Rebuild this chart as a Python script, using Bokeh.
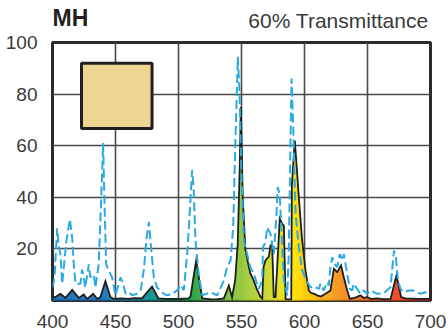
import numpy as np
from bokeh.plotting import figure
from bokeh.layouts import column
from bokeh.models import Range1d, FixedTicker, ColumnDataSource
from bokeh.core.properties import value
from bokeh.embed import file_html
from bokeh.resources import INLINE

# Relative spectral power of the metal-halide lamp (black outline, filled)
spd_nm = [400, 402, 406.3, 410.3, 415.6, 420.9, 424.8, 427.5, 432.3, 435.5, 438, 442, 446, 448.7,
          455, 460, 465, 471, 479, 484, 490, 500, 508, 509.5, 514, 518.8, 525, 530, 536, 540, 542.5,
          545, 547, 548.5, 549.5, 551, 553, 555, 557, 559.5, 562, 565, 566.5, 567.5, 569, 571.7, 573,
          574.3, 575.6, 577, 580.4, 582.3, 583.6, 585, 589.5, 590, 592.3, 595.5, 598, 600.8, 603.4,
          605, 608.7, 610, 613, 616.7, 620.6, 623.3, 626, 629, 631.2, 633.9, 636, 640, 644.4, 647,
          649.7, 653, 657.7, 662, 668.3, 673, 676.7, 680, 690, 700]
spd_val = [1.0, 1.3, 2.6, 1.0, 4.1, 1.0, 2.3, 0.6, 2.6, 0.6, 1.3, 7.5, 1.3, 0.6,
           0.8, 0.6, 0.9, 0.8, 5.4, 0.8, 0.6, 0.6, 0.8, 1.5, 15.5, 0.8, 0.5, 0.4, 0.8, 5.8, 1.2,
           8, 22, 50, 75, 40, 20, 15, 10.5, 8, 4.6, 1.5, 0.8, 13, 15.5, 17, 21.3,
           22, 1.3, 1.3, 31.7, 29.7, 29, 0.5, 0.3, 45, 62, 40, 24, 11.6, 3.9,
           3, 2.4, 2, 1.5, 2.6, 3.9, 12.3, 11, 13.6, 9, 3.9, 0.7, 1, 2, 1,
           1.3, 0.6, 0.8, 0.5, 0.6, 9.7, 1.3, 0.8, 0.6, 0.6]

# Spectrum seen through the 60% transmittance filter (dashed)
trans_nm = [400, 401.6, 403.7, 405, 406.3, 407.7, 411, 413.8, 415.6, 417, 418.3, 422.2, 423.5, 424.8,
            426, 428.8, 430, 432.8, 434, 436.7, 438.6, 440.2, 441.3, 442.6, 444.7, 447.3, 450, 454,
            456, 458, 460.6, 463.2, 467, 470, 472.5, 474.6, 476.5, 477.8, 480.4, 483, 485.7, 488.3,
            491, 495, 499, 501.6, 504.2, 506.9, 508.2, 510.8, 512, 513.5, 516, 518.8, 525.4, 530.7,
            536, 538.6, 541.3, 543.4, 545.2, 547.1, 548.4, 549.8, 551.9, 554.5, 557, 559.8, 563.7,
            566.4, 567.1, 569, 570.4, 573, 575.6, 577.8, 578.8, 580.4, 582.3, 583.6, 586.3, 587.5,
            588.9, 589.7, 591, 592.9, 595.5, 598.2, 600.8, 604.8, 607.4, 611.4, 612.7, 615.3, 618,
            619.3, 620.6, 622, 623.8, 626, 628, 630, 631.2, 633.9, 636, 637.8, 639, 641.8, 644.4,
            647, 649.7, 652.4, 657.7, 663, 668.3, 671, 672.5, 674.2, 676.2, 678.8, 682.8, 686.7,
            692, 696, 700]
trans_val = [5, 9, 28, 21, 18, 6.5, 23, 31.5, 24.5, 13, 6.5, 6.5, 12, 9,
             5, 14, 9, 10, 5, 14, 39, 61, 37, 14, 11.5, 9, 2, 9,
             6.5, 2.6, 3.2, 2, 2.6, 4, 12, 24, 30.5, 23, 9, 5, 3.9, 2.6,
             2, 2.5, 4, 6, 4, 18, 28, 50.5, 44, 23, 10.3, 2, 3.2, 2,
             7.8, 13, 15.5, 28.4, 62, 94.5, 81, 51.7, 23, 18, 13, 10.3, 4.5,
             7.8, 20.7, 22.6, 28.4, 25.8, 18, 33.6, 44, 40.7, 20.7, 7.8, 2, 18,
             62, 86, 68.5, 33.6, 20.7, 11.6, 8.4, 5, 5.5, 4.5, 6.5, 3.9, 7.1,
             5.8, 12.9, 16.8, 14.2, 13, 18, 15.5, 18, 10.3, 4.5, 3.9, 6.5, 4.5, 2.6,
             3.9, 2.6, 3.9, 2.6, 2.8, 5.2, 19.4, 16.8, 7.8, 4.5, 3.2, 3.9, 3.9,
             2.6, 3.2, 3.2]

x_ticks = [400, 450, 500, 550, 600, 650, 700]
y_ticks = [20, 40, 60, 80, 100]

lamp_name = "MH"
filter_name = "60% Transmittance"

# Colour swatch of the lamp light
swatch_left, swatch_right, swatch_bottom, swatch_top = 423, 479, 66.7, 92
swatch_color = "#EDD592"

# Spectral colour ramp used to shade the area under the curve
ramp_nm = [400, 440, 460, 480, 495, 510, 525, 540, 555, 570, 582, 590, 600, 612, 628, 645, 665, 685, 700]
ramp_hex = ["#1f6cb4", "#1c75bc", "#1a84ac", "#12918f", "#0d7d4f", "#25a244", "#4fb146", "#7fc241",
            "#a2cc3a", "#c8d92c", "#e8e31a", "#fee800", "#ffd100", "#fbb318", "#f7941d", "#f37021",
            "#f05223", "#e93e25", "#d9261c"]
ramp_rgb = np.array([[int(h[i:i + 2], 16) for i in (1, 3, 5)] for h in ramp_hex], dtype=float)


def spectral(nm):
    r, g, b = (np.interp(nm, ramp_nm, ramp_rgb[:, k]) for k in range(3))
    return "#%02x%02x%02x" % (int(round(r)), int(round(g)), int(round(b)))


# Thin colour slices under each segment of the curve, for a smooth spectral gradient
xs, ys, cs = [], [], []
for i in range(len(spd_nm) - 1):
    x0, x1 = spd_nm[i], spd_nm[i + 1]
    y0, y1 = spd_val[i], spd_val[i + 1]
    n = max(1, int(np.ceil((x1 - x0) / 0.5)))
    edges = np.linspace(x0, x1, n + 1)
    hts = y0 + (y1 - y0) * (edges - x0) / (x1 - x0)
    for j in range(n):
        xs.append([edges[j], edges[j], edges[j + 1], edges[j + 1]])
        ys.append([0, hts[j], hts[j + 1], 0])
        cs.append(spectral((edges[j] + edges[j + 1]) / 2))

# Header strip carrying the lamp name and the filter name; its frame lines up with the
# chart frame below, so the x range is expressed in page pixels (52..430)
head = figure(width=448, height=31, output_backend="svg", toolbar_location=None,
              x_range=Range1d(52, 430), y_range=Range1d(0, 31),
              min_border=0, min_border_left=0, min_border_right=0, min_border_top=0, min_border_bottom=0)
head.axis.visible = False
head.grid.visible = False
head.outline_line_color = None
head.background_fill_color = "white"
head.border_fill_color = "white"
head.text(x=[52], y=[13.5], text=[lamp_name], text_font=value("Liberation Sans"),
          text_font_style="bold", text_font_size="23px", text_color="#231f20",
          text_baseline="middle", text_align="left")
head.text(x=[428], y=[11.5], text=[filter_name], text_font=value("Liberation Sans"),
          text_font_size="21px", text_color="#3a3a3a", text_baseline="middle", text_align="right")

p = figure(width=448, height=304, output_backend="svg", toolbar_location=None,
           x_range=Range1d(400, 700), y_range=Range1d(0, 100),
           min_border_left=52, min_border_right=18, min_border_top=11, min_border_bottom=35)
p.background_fill_color = "white"
p.border_fill_color = "white"
p.outline_line_color = "#2b2b2b"
p.outline_line_width = 3

for ax, ticks in ((p.xaxis, x_ticks), (p.yaxis, y_ticks)):
    ax.ticker = FixedTicker(ticks=ticks)
    ax.axis_line_color = None
    ax.major_tick_line_color = None
    ax.minor_tick_line_color = None
    ax.major_label_text_font = "Liberation Sans"
    ax.major_label_text_font_size = "19px"
    ax.major_label_text_color = "#3a3a3a"
p.xaxis.major_label_standoff = 8
p.yaxis.major_label_standoff = 9

p.xgrid.ticker = FixedTicker(ticks=x_ticks)
p.ygrid.ticker = FixedTicker(ticks=y_ticks)
for g in (p.xgrid, p.ygrid):
    g.grid_line_color = "#4a4a4a"
    g.grid_line_width = 1.6

src = ColumnDataSource(dict(xs=xs, ys=ys, c=cs))
p.patches("xs", "ys", source=src, fill_color="c", line_color="c", line_width=0.4)
p.line(spd_nm, spd_val, line_color="#1e1e1e", line_width=1.8, line_join="miter")
p.line(trans_nm, trans_val, line_color="#29abe2", line_width=2, line_dash="9 4")

p.quad(left=[swatch_left], right=[swatch_right], bottom=[swatch_bottom], top=[swatch_top],
       fill_color=swatch_color, line_color="#231f20", line_width=3)

page = column(head, p, spacing=0)
open("out.html", "w").write(file_html(page, INLINE))
